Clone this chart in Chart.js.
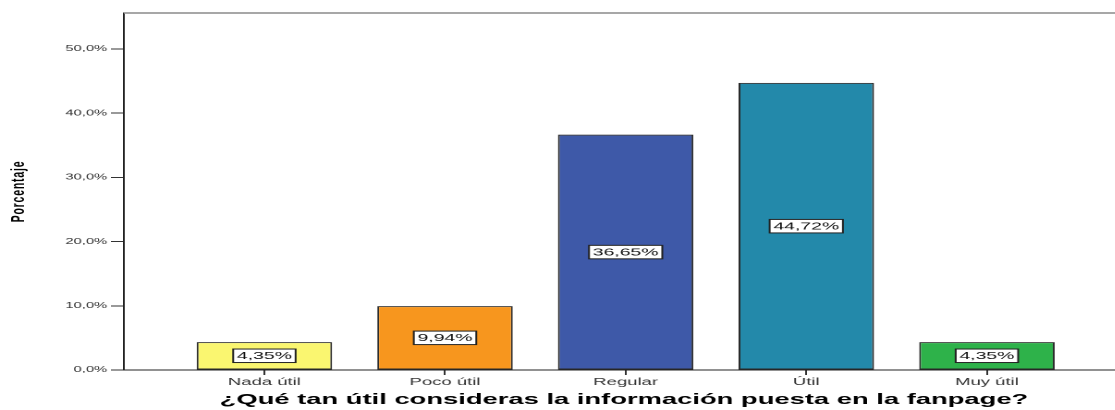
<!DOCTYPE html>
<html>
<head>
<meta charset="utf-8">
<script src="https://cdn.jsdelivr.net/npm/chart.js@4.4.0/dist/chart.umd.min.js"></script>
<style>
    html, body { margin: 0; padding: 0; background: #fff; }
    #wrap { width: 1115px; height: 410px; overflow: hidden; }
    #chart { display: block; }
</style>
</head>
<body>
<div id="wrap">
    <canvas id="chart" width="608" height="410" style="width:1124px;height:410px"></canvas>
</div>
<script>
// datos del gráfico
const categories = ['Nada útil', 'Poco útil', 'Regular', 'Útil', 'Muy útil'];
const percentages = [4.35, 9.94, 36.65, 44.72, 4.35];
const yTicks = [0, 10, 20, 30, 40, 50];
const barColors = ['#faf670', '#f7961e', '#3e59a8', '#2389aa', '#2eb24a'];
const xTitle = '¿Qué tan útil consideras la información puesta en la fanpage?';
const yTitle = 'Porcentaje';

const FONT = '"Liberation Sans", Arial, sans-serif';

// 12.5 -> "12,50%"
function fmt(v, d) {
    return v.toFixed(d).replace('.', ',') + '%';
}

// línea superior del marco
const topFrame = {
    id: 'topFrame',
    afterDraw(chart) {
        const { ctx, chartArea } = chart;
        ctx.save();
        ctx.strokeStyle = '#8a8a8a';
        ctx.lineWidth = 1.5;
        ctx.beginPath();
        ctx.moveTo(chartArea.left, chartArea.top);
        ctx.lineTo(chartArea.right, chartArea.top);
        ctx.stroke();
        ctx.restore();
    }
};

// etiquetas con recuadro blanco en el centro de cada barra
const valueLabels = {
    id: 'valueLabels',
    afterDatasetsDraw(chart) {
        const ctx = chart.ctx;
        const meta = chart.getDatasetMeta(0);
        ctx.save();
        ctx.font = '10.5px ' + FONT;
        ctx.textAlign = 'center';
        ctx.textBaseline = 'middle';
        meta.data.forEach((bar, i) => {
            const p = bar.getProps(['x', 'y', 'base'], true);
            const cy = (p.y + p.base) / 2;
            const txt = fmt(percentages[i], 2);
            const w = ctx.measureText(txt).width + 4;
            const h = 13.5;
            ctx.fillStyle = '#fff';
            ctx.fillRect(p.x - w / 2, cy - h / 2, w, h);
            ctx.strokeStyle = '#222';
            ctx.lineWidth = 1;
            ctx.strokeRect(p.x - w / 2, cy - h / 2, w, h);
            ctx.fillStyle = '#111';
            ctx.fillText(txt, p.x, cy + 0.5);
        });
        ctx.restore();
    }
};

// un poco de espacio entre letras en el título vertical
const spacedTitle = {
    id: 'spacedTitle',
    beforeDraw(chart) {
        const y = chart.scales.y;
        if (y.__spaced) return;
        const orig = y.drawTitle;
        y.drawTitle = function () {
            this.ctx.save();
            this.ctx.letterSpacing = '0.8px';
            orig.call(this);
            this.ctx.restore();
        };
        y.__spaced = true;
    }
};

new Chart(document.getElementById('chart'), {
    type: 'bar',
    data: {
        datasets: [{
            data: percentages.map((v, i) => ({ x: i, y: v })),
            backgroundColor: barColors,
            borderColor: '#2a2a2a',
            borderWidth: 1,
            borderSkipped: false,
            barPercentage: 0.75,
            categoryPercentage: 1
        }]
    },
    options: {
        responsive: false,
        devicePixelRatio: 2,
        animation: false,
        layout: { padding: { top: 13, left: 0, right: 0, bottom: 0 } },
        plugins: {
            legend: { display: false },
            tooltip: { enabled: false }
        },
        scales: {
            x: {
                type: 'linear',
                offset: false,
                min: -0.778,
                max: 4.759,
                afterBuildTicks: (scale) => {
                    scale.ticks = categories.map((c, i) => ({ value: i }));
                },
                afterFit: (scale) => { scale.height = 40; },
                grid: { display: true, offset: false, drawOnChartArea: false, tickLength: 5, tickColor: '#333', lineWidth: 1 },
                border: { color: '#222', width: 1 },
                ticks: {
                    padding: 1,
                    maxRotation: 0,
                    autoSkip: false,
                    color: '#333',
                    font: { family: FONT, size: 10 },
                    callback: (v) => categories[v]
                },
                title: {
                    display: true,
                    text: xTitle,
                    color: '#000',
                    padding: { top: 0, bottom: 1 },
                    font: { family: FONT, size: 14.8, weight: 'bold' }
                }
            },
            y: {
                min: 0,
                max: 55.6,
                afterBuildTicks: (scale) => {
                    scale.ticks = yTicks.map(v => ({ value: v }));
                },
                afterFit: (scale) => { scale.width = 67; },
                grid: { display: true, drawOnChartArea: false, tickLength: 7, tickColor: '#333', lineWidth: 1 },
                border: { color: '#222', width: 1 },
                ticks: {
                    padding: 2,
                    color: '#333',
                    font: { family: FONT, size: 8 },
                    callback: (v) => fmt(v, 1)
                },
                title: {
                    display: true,
                    text: yTitle,
                    color: '#000',
                    padding: { top: 4, bottom: 0 },
                    font: { family: FONT, size: 10.5, weight: 'bold' }
                }
            }
        }
    },
    plugins: [topFrame, valueLabels, spacedTitle]
});
</script>
</body>
</html>
